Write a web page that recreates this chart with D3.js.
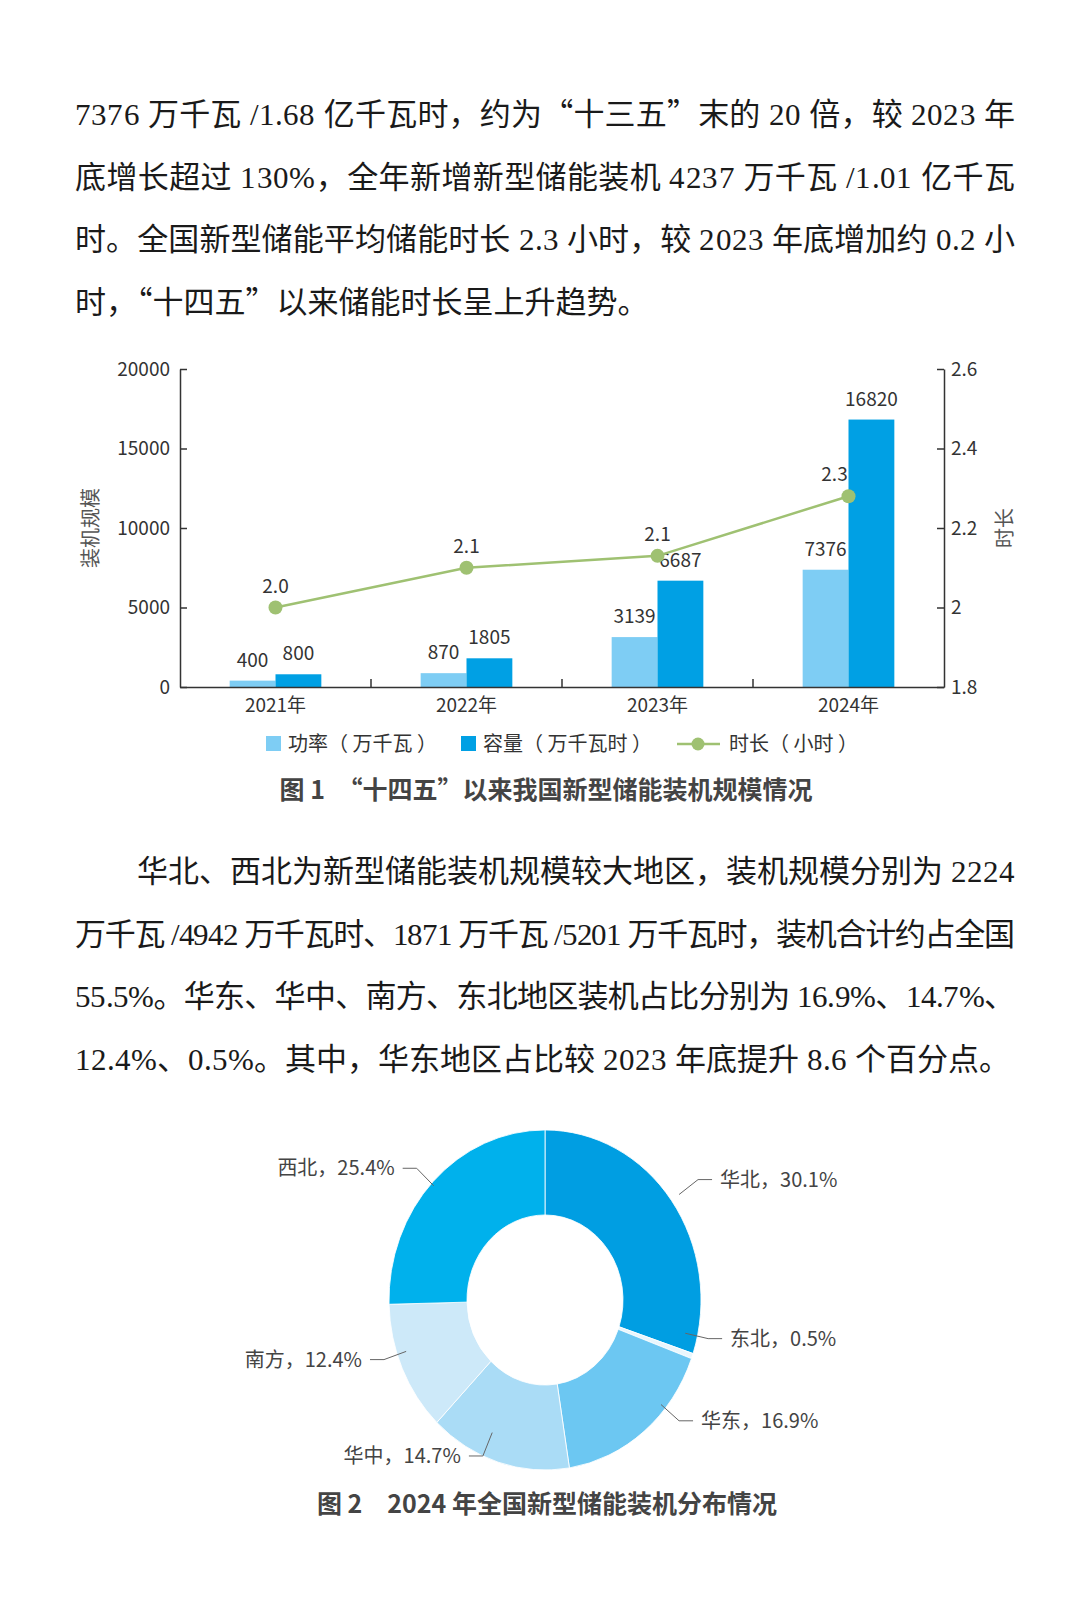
<!DOCTYPE html>
<html lang="zh-CN">
<head>
<meta charset="utf-8">
<script src="https://cdn.jsdelivr.net/npm/d3@7"></script>
<style>
  /* serif for the latin part of the body text only, CJK falls through to Noto Sans CJK */
  @font-face {
    font-family: "BodyLatin";
    src: local("Liberation Serif"), local("LiberationSerif"), local("LiberationSerif-Regular"),
         local("Times New Roman"), local("Tinos"), local("DejaVu Serif"), local("DejaVuSerif");
    unicode-range: U+0020-007E;
  }
  body { margin: 0; background: #fff; }
  svg { display: block; }
</style>
</head>
<body>
<svg id="page" width="1080" height="1608" lang="zh-CN"></svg>
<script>
// ---- data ----
const years = ["2021年", "2022年", "2023年", "2024年"];
const power = [400, 870, 3139, 7376];          // 功率（万千瓦）
const capacity = [800, 1805, 6687, 16820];     // 容量（万千瓦时）
const duration = [2.0, 2.1, 2.13, 2.28];       // 时长（小时）
const leftTicks = [0, 5000, 10000, 15000, 20000];
const rightTicks = [1.8, 2, 2.2, 2.4, 2.6];

const regions = ["华北", "东北", "华东", "华中", "南方", "西北"];
const shares = [30.1, 0.5, 16.9, 14.7, 12.4, 25.4];

const para1 = [
  "7376 万千瓦 /1.68 亿千瓦时，约为“十三五”末的 20 倍，较 2023 年",
  "底增长超过 130%，全年新增新型储能装机 4237 万千瓦 /1.01 亿千瓦",
  "时。全国新型储能平均储能时长 2.3 小时，较 2023 年底增加约 0.2 小",
  "时，“十四五”以来储能时长呈上升趋势。"
];
const para2 = [
  "华北、西北为新型储能装机规模较大地区，装机规模分别为 2224",
  "万千瓦 /4942 万千瓦时、1871 万千瓦 /5201 万千瓦时，装机合计约占全国",
  "55.5%。华东、华中、南方、东北地区装机占比分别为 16.9%、14.7%、",
  "12.4%、0.5%。其中，华东地区占比较 2023 年底提升 8.6 个百分点。"
];

const serif = "BodyLatin, 'Noto Sans CJK SC', serif";
const sans = "'Noto Sans CJK SC', 'Noto Sans', sans-serif";

const svg = d3.select("#page");
svg.append("rect").attr("width", 1080).attr("height", 1608).attr("fill", "#fff");

// ---- body paragraphs ----
function drawParagraph(lines, y0, indent) {
  const left = 75, right = 1015, lh = 62.5;
  svg.append("g").selectAll("text")
    .data(lines)
    .join("text")
    .attr("x", (d, i) => left + (i === 0 ? indent : 0))
    .attr("y", (d, i) => y0 + i * lh)
    .attr("font-family", serif)
    .attr("font-size", 31)
    .attr("fill", "#1a1a1a")
    .each(function (d, i) {
      // every line but the last is justified to the text block
      if (i < lines.length - 1) {
        d3.select(this)
          .attr("textLength", right - left - (i === 0 ? indent : 0))
          .attr("lengthAdjust", "spacing");
      }
    })
    .text(d => d);
}
drawParagraph(para1, 125, 0);
drawParagraph(para2, 882, 62);

// ---- figure 1: bars + line ----
const plot = {left: 180, right: 944, top: 369, bottom: 687};

let x = d3.scaleBand().domain(years)
  .range([plot.left, plot.right])
  .paddingInner(0.52).paddingOuter(0.26);
let sub = d3.scaleBand().domain(["power", "capacity"]).range([0, x.bandwidth()]);
let yLeft = d3.scaleLinear().domain([0, 20000]).range([plot.bottom, plot.top]);
let yRight = d3.scaleLinear().domain([1.8, 2.6]).range([plot.bottom, plot.top]);

const fig1 = svg.append("g");
const axisColor = "#333";

const rows = years.map((y, i) => ({year: y, power: power[i], capacity: capacity[i], duration: duration[i]}));
const barColor = {power: "#7ecdf4", capacity: "#00a0e4"};

// bars
["power", "capacity"].forEach(key => {
  fig1.append("g").selectAll("rect")
    .data(rows)
    .join("rect")
    .attr("x", d => x(d.year) + sub(key))
    .attr("y", d => yLeft(d[key]))
    .attr("width", sub.bandwidth())
    .attr("height", d => yLeft(0) - yLeft(d[key]))
    .attr("fill", barColor[key]);

  fig1.append("g").selectAll("text")
    .data(rows)
    .join("text")
    .attr("x", d => x(d.year) + sub(key) + sub.bandwidth() / 2)
    .attr("y", d => yLeft(d[key]) - 14)
    .attr("text-anchor", "middle")
    .attr("font-family", sans)
    .attr("font-size", 19)
    .attr("fill", "#333")
    .text(d => d[key]);
});

// left axis
let leftAxis = d3.axisLeft(yLeft).tickValues(leftTicks).tickSize(-7).tickSizeOuter(0).tickPadding(10)
  .tickFormat(d3.format("d"));
fig1.append("g")
  .attr("transform", "translate(" + plot.left + ",0)")
  .call(leftAxis)
  .call(g => g.selectAll("text").attr("font-size", 19).attr("font-family", sans).attr("fill", "#333"))
  .call(g => g.selectAll("line,path").attr("stroke", axisColor).attr("stroke-width", 1.5));

// right axis
let rightAxis = d3.axisRight(yRight).tickValues(rightTicks).tickSize(-7).tickSizeOuter(0).tickPadding(7)
  .tickFormat(d => String(d));
fig1.append("g")
  .attr("transform", "translate(" + plot.right + ",0)")
  .call(rightAxis)
  .call(g => g.selectAll("text").attr("font-size", 19).attr("font-family", sans).attr("fill", "#333"))
  .call(g => g.selectAll("line,path").attr("stroke", axisColor).attr("stroke-width", 1.5));

// bottom axis with category labels and boundary ticks
let bottomAxis = d3.axisBottom(x).tickSize(0).tickPadding(12);
fig1.append("g")
  .attr("transform", "translate(0," + plot.bottom + ")")
  .call(bottomAxis)
  .call(g => g.selectAll("text").attr("font-size", 19).attr("font-family", sans).attr("fill", "#333"))
  .call(g => g.select(".domain").attr("stroke", axisColor).attr("stroke-width", 1.5))
  .call(g => g.selectAll(".bound")
    .data(years.slice(1))
    .join("line")
    .attr("class", "bound")
    .attr("x1", d => x(d) - (x.step() - x.bandwidth()) / 2)
    .attr("x2", d => x(d) - (x.step() - x.bandwidth()) / 2)
    .attr("y1", 0).attr("y2", -8)
    .attr("stroke", axisColor).attr("stroke-width", 1.5));

// axis titles
fig1.append("text")
  .attr("transform", "translate(98,528) rotate(-90)")
  .attr("text-anchor", "middle")
  .attr("font-family", sans).attr("font-size", 20).attr("fill", "#555")
  .text("装机规模");
fig1.append("text")
  .attr("transform", "translate(1012,528) rotate(-90)")
  .attr("text-anchor", "middle")
  .attr("font-family", sans).attr("font-size", 20).attr("fill", "#555")
  .text("时长");

// duration line
const green = "#9fc172";
let line = d3.line()
  .x(d => x(d.year) + x.bandwidth() / 2)
  .y(d => yRight(d.duration));
fig1.append("path")
  .datum(rows)
  .attr("d", line)
  .attr("fill", "none")
  .attr("stroke", green)
  .attr("stroke-width", 2.5);
fig1.append("g").selectAll("circle")
  .data(rows)
  .join("circle")
  .attr("cx", d => x(d.year) + x.bandwidth() / 2)
  .attr("cy", d => yRight(d.duration))
  .attr("r", 7)
  .attr("fill", green);
fig1.append("g").selectAll("text")
  .data(rows)
  .join("text")
  .attr("x", (d, i) => x(d.year) + x.bandwidth() / 2 - (i === 3 ? 14 : 0))
  .attr("y", d => yRight(d.duration) - 15)
  .attr("text-anchor", "middle")
  .attr("font-family", sans).attr("font-size", 19).attr("fill", "#333")
  .text(d => d3.format(".1f")(d.duration));

// legend
const legend = fig1.append("g").attr("font-family", sans).attr("font-size", 20).attr("fill", "#333");
legend.append("rect").attr("x", 266).attr("y", 736).attr("width", 15).attr("height", 15).attr("fill", barColor.power);
legend.append("text").attr("x", 288).attr("y", 751).text("功率（ 万千瓦 ）");
legend.append("rect").attr("x", 461).attr("y", 736).attr("width", 15).attr("height", 15).attr("fill", barColor.capacity);
legend.append("text").attr("x", 483).attr("y", 751).text("容量（ 万千瓦时 ）");
legend.append("line").attr("x1", 677).attr("x2", 720).attr("y1", 744).attr("y2", 744)
  .attr("stroke", green).attr("stroke-width", 2.5);
legend.append("circle").attr("cx", 698).attr("cy", 744).attr("r", 6.5).attr("fill", green);
legend.append("text").attr("x", 729).attr("y", 751).text("时长（ 小时 ）");

svg.append("text")
  .attr("x", 546).attr("y", 799)
  .attr("text-anchor", "middle")
  .attr("font-family", sans).attr("font-size", 25).attr("font-weight", "bold").attr("fill", "#444")
  .text("图 1　“十四五”以来我国新型储能装机规模情况");

// ---- figure 2: donut ----
const cx = 545, cy = 1300, R = 156, ratioY = 1.09;
const pieColors = ["#009ee2", "#e9f6fd", "#6cc7f2", "#aadcf6", "#cde9f9", "#00b1ec"];
// label placement per slice: angle shift (deg) and elbow radius factor
const labelShift = [0, -7, -11, 6, 5, -1];
const labelReach = [1.21, 1.07, 1.115, 1.0, 1.09, 1.13];

const pie = d3.pie().sort(null).value(d => d.value);
const arcs = pie(regions.map((r, i) => ({name: r, value: shares[i]})));
let arc = d3.arc().innerRadius(R * 0.5).outerRadius(R);

const donut = svg.append("g").attr("transform", "translate(" + cx + "," + cy + ") scale(1," + ratioY + ")");
donut.selectAll("path")
  .data(arcs)
  .join("path")
  .attr("d", arc)
  .attr("fill", (d, i) => pieColors[i])
  .attr("stroke", "#fff")
  .attr("stroke-width", 0.8);

// leader lines and labels (page coordinates, ellipse aware)
function ptAt(angle, r) {
  return [cx + Math.sin(angle) * r, cy - Math.cos(angle) * r * ratioY];
}
const labels = svg.append("g");
arcs.forEach((a, i) => {
  const mid = (a.startAngle + a.endAngle) / 2 + labelShift[i] * Math.PI / 180;
  const right = Math.sin(mid) >= 0;
  const p0 = ptAt(mid, R * (labelReach[i] - 0.15));
  const p1 = ptAt(mid, R * labelReach[i]);
  const p2 = [p1[0] + (right ? 14 : -14), p1[1]];
  labels.append("polyline")
    .attr("points", [p0, p1, p2].map(p => p.join(",")).join(" "))
    .attr("fill", "none")
    .attr("stroke", "#666")
    .attr("stroke-width", 1);
  labels.append("text")
    .attr("x", p2[0] + (right ? 8 : -8))
    .attr("y", p2[1] + 7)
    .attr("text-anchor", right ? "start" : "end")
    .attr("font-family", sans).attr("font-size", 20).attr("fill", "#444")
    .text(a.data.name + "，" + a.data.value + "%");
});

svg.append("text")
  .attr("x", 547).attr("y", 1513)
  .attr("text-anchor", "middle")
  .attr("font-family", sans).attr("font-size", 25).attr("font-weight", "bold").attr("fill", "#444")
  .text("图 2　2024 年全国新型储能装机分布情况");
</script>
</body>
</html>
